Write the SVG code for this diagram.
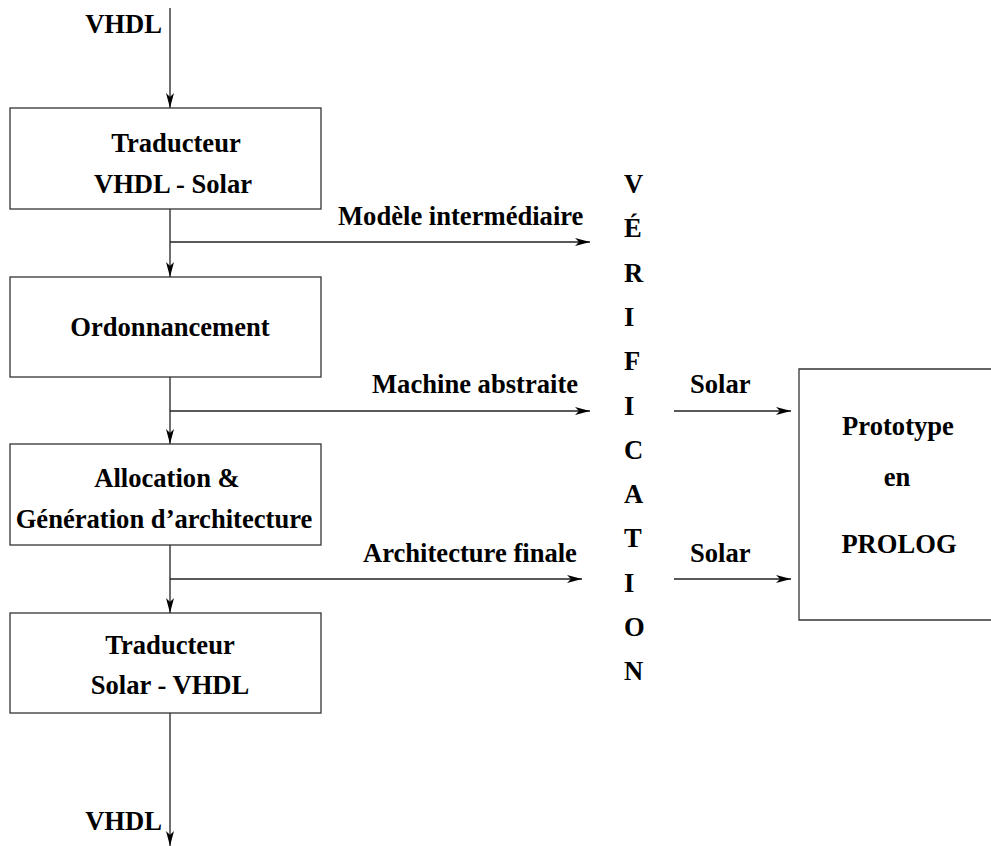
<svg xmlns="http://www.w3.org/2000/svg" width="991" height="846" viewBox="0 0 991 846">
<style>
text{font-family:'Liberation Serif','Times New Roman',Times,serif;font-weight:700;font-size:26.6px;fill:#000}
.c{text-anchor:middle}
.e{text-anchor:end}
.box{fill:none;stroke:#333;stroke-width:1.3}
.ln{fill:none;stroke:#222;stroke-width:1.3}
</style>
<defs>
<marker id="ah" markerUnits="userSpaceOnUse" markerWidth="20" markerHeight="12" viewBox="-16 -6 17 12" refX="0" refY="0" orient="auto">
<path d="M0,0 L-15,-4 L-11,0 L-15,4 Z" fill="#000"/>
</marker>
</defs>
<rect width="991" height="846" fill="#fff"/>
<g id="connectors">
<line class="ln" x1="170" y1="8" x2="170" y2="108" marker-end="url(#ah)"/>
<line class="ln" x1="170" y1="209" x2="170" y2="277" marker-end="url(#ah)"/>
<line class="ln" x1="170" y1="377" x2="170" y2="444" marker-end="url(#ah)"/>
<line class="ln" x1="170" y1="545" x2="170" y2="613" marker-end="url(#ah)"/>
<line class="ln" x1="170" y1="713" x2="170" y2="846" marker-end="url(#ah)"/>
<line class="ln" x1="170" y1="242" x2="590" y2="242" marker-end="url(#ah)"/>
<line class="ln" x1="170" y1="411" x2="590" y2="411" marker-end="url(#ah)"/>
<line class="ln" x1="170" y1="579" x2="582" y2="579" marker-end="url(#ah)"/>
<line class="ln" x1="674" y1="411" x2="791" y2="411" marker-end="url(#ah)"/>
<line class="ln" x1="674" y1="579" x2="791" y2="579" marker-end="url(#ah)"/>
<text class="e" x="162" y="33">VHDL</text>
<text class="e" x="162" y="830">VHDL</text>
<text x="338" y="225">Modèle intermédiaire</text>
<text x="372" y="393">Machine abstraite</text>
<text x="363" y="562">Architecture finale</text>
<text x="690" y="393">Solar</text>
<text x="690" y="562">Solar</text>
</g>
<g id="traducteur1">
<rect class="box" x="10" y="108" width="311" height="101"/>
<text class="c" x="176" y="152">Traducteur</text>
<text class="c" x="173" y="193">VHDL - Solar</text>
</g>
<g id="ordonnancement">
<rect class="box" x="10" y="277" width="311" height="100"/>
<text class="c" x="170" y="336">Ordonnancement</text>
</g>
<g id="allocation">
<rect class="box" x="10" y="444" width="311" height="101"/>
<text class="c" x="167" y="487">Allocation &amp;</text>
<text class="c" x="164" y="528">Génération d’architecture</text>
</g>
<g id="traducteur2">
<rect class="box" x="10" y="613" width="311" height="100"/>
<text class="c" x="170" y="654">Traducteur</text>
<text class="c" x="170" y="694">Solar - VHDL</text>
</g>
<g id="verification">
<text x="624" y="193">V</text>
<text x="624" y="237">É</text>
<text x="624" y="282">R</text>
<text x="624" y="326">I</text>
<text x="624" y="370">F</text>
<text x="624" y="415">I</text>
<text x="624" y="459">C</text>
<text x="624" y="503">A</text>
<text x="624" y="547">T</text>
<text x="624" y="592">I</text>
<text x="624" y="636">O</text>
<text x="624" y="680">N</text>
</g>
<g id="prototype">
<path class="box" d="M995,369 H799 V620 H995"/>
<text class="c" x="898" y="435">Prototype</text>
<text class="c" x="897" y="486">en</text>
<text class="c" x="899" y="553">PROLOG</text>
</g>
</svg>
